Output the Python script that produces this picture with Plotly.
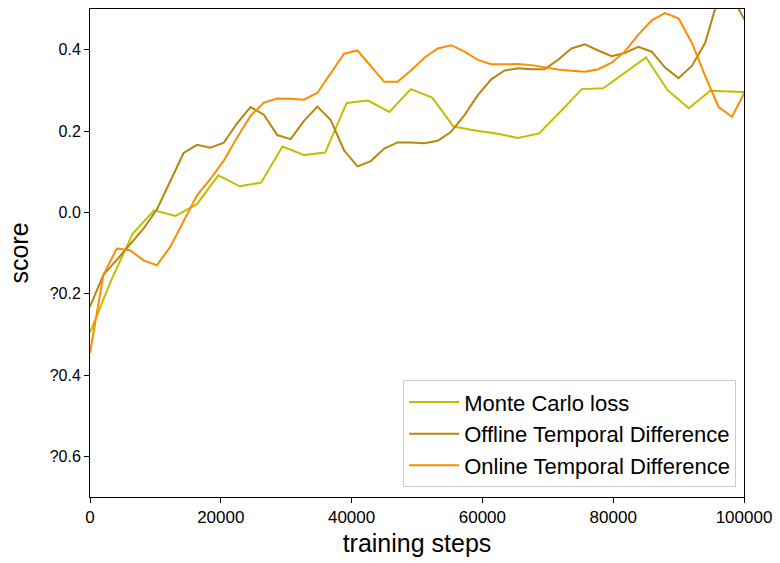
import plotly.graph_objects as go

# sampling grids (training steps)
steps_mc = [k * 3270 for k in range(32)]
steps_td = [k * 2045 for k in range(50)]

monte_carlo = [-0.296, -0.166, -0.052, 0.005, -0.009, 0.020, 0.091, 0.064, 0.073, 0.162,
               0.141, 0.147, 0.269, 0.275, 0.247, 0.303, 0.282, 0.211, 0.201, 0.194,
               0.183, 0.194, 0.248, 0.303, 0.305, 0.343, 0.381, 0.301, 0.256, 0.299,
               0.297, 0.295]

offline_td = [-0.232, -0.154, -0.117, -0.079, -0.040, 0.007, 0.078, 0.146, 0.166, 0.159,
              0.171, 0.219, 0.259, 0.240, 0.190, 0.180, 0.225, 0.260, 0.227, 0.152,
              0.113, 0.126, 0.157, 0.172, 0.172, 0.170, 0.176, 0.198, 0.239, 0.288,
              0.327, 0.349, 0.354, 0.352, 0.352, 0.375, 0.403, 0.413, 0.398, 0.384,
              0.392, 0.407, 0.395, 0.356, 0.330, 0.360, 0.417, 0.530, 0.530, 0.470]

online_td = [-0.346, -0.154, -0.089, -0.093, -0.118, -0.130, -0.085, -0.020, 0.042, 0.082,
             0.127, 0.184, 0.237, 0.270, 0.280, 0.279, 0.277, 0.294, 0.343, 0.390,
             0.398, 0.360, 0.321, 0.321, 0.349, 0.380, 0.403, 0.411, 0.395, 0.375,
             0.364, 0.364, 0.365, 0.362, 0.357, 0.351, 0.348, 0.346, 0.352, 0.368,
             0.396, 0.437, 0.472, 0.490, 0.477, 0.417, 0.335, 0.259, 0.235, 0.299]

series_names = ["Monte Carlo loss", "Offline Temporal Difference", "Online Temporal Difference"]
colors = ["#bfbf00", "#b8860b", "#ff8c00"]

x_tickvals = [0, 20000, 40000, 60000, 80000, 100000]
x_ticktext = ["0", "20000", "40000", "60000", "80000", "100000"]
y_tickvals = [-0.6, -0.4, -0.2, 0.0, 0.2, 0.4]
y_ticktext = ["?0.6", "?0.4", "?0.2", "0.0", "0.2", "0.4"]

FONT = "Liberation Sans, Arial, sans-serif"

fig = go.Figure()
for xs, ys, name, c in zip([steps_mc, steps_td, steps_td],
                           [monte_carlo, offline_td, online_td],
                           series_names, colors):
    fig.add_trace(go.Scatter(x=xs, y=ys, mode="lines", name=name,
                             line=dict(color=c, width=2)))

fig.update_layout(
    width=780, height=563,
    margin=dict(l=90, r=33, t=8, b=66),
    paper_bgcolor="white", plot_bgcolor="white",
    font=dict(family=FONT, color="black"),
    legend=dict(x=0.988, y=0.02, xanchor="right", yanchor="bottom",
                bordercolor="#cccccc", borderwidth=1, bgcolor="white",
                font=dict(size=22, family=FONT, color="black"),
                itemwidth=50, tracegroupgap=0),
    showlegend=True,
)
fig.update_xaxes(range=[0, 100000], tickvals=x_tickvals, ticktext=x_ticktext,
                 showgrid=False, zeroline=False, showline=True, mirror=True,
                 linecolor="black", linewidth=1, ticks="outside", ticklen=5,
                 tickcolor="black", tickfont=dict(size=17, family=FONT),
                 title=dict(text="training steps", font=dict(size=25, family=FONT),
                            standoff=8))
fig.update_yaxes(range=[-0.7, 0.5], tickvals=y_tickvals, ticktext=y_ticktext,
                 showgrid=False, zeroline=False, showline=True, mirror=True,
                 linecolor="black", linewidth=1, ticks="outside", ticklen=5,
                 tickcolor="black", tickfont=dict(size=16, family=FONT),
                 title=dict(text="score", font=dict(size=25, family=FONT),
                            standoff=13))

fig.write_html("out.html")
